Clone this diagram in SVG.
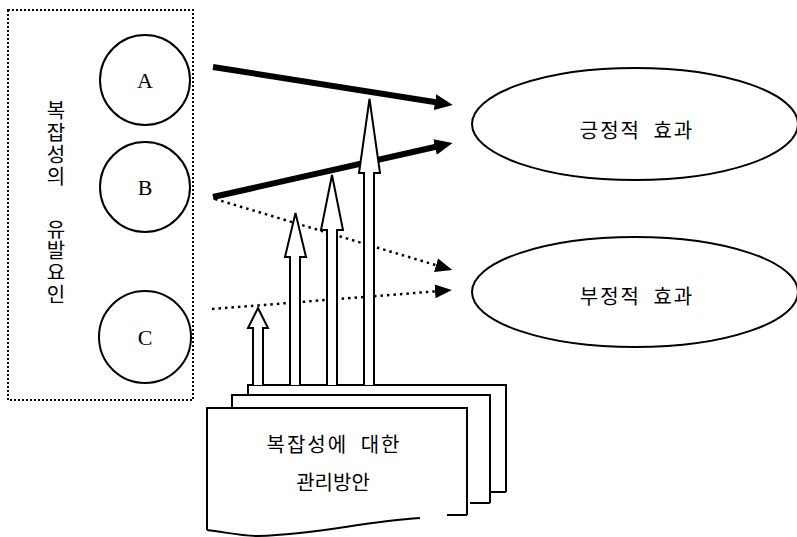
<svg xmlns="http://www.w3.org/2000/svg" width="797" height="537" viewBox="0 0 797 537">
<style>
.ln{fill:none;stroke:#000;stroke-width:2}
.circ{fill:#fff;stroke:#000;stroke-width:2}
.lat{font-family:"Liberation Serif",serif;font-size:22px;fill:#000;text-anchor:middle;dominant-baseline:central}
.ko{font-family:"Noto Sans CJK KR","Noto Sans",sans-serif;font-size:20px;fill:#000;text-anchor:middle;dominant-baseline:central}
.thick{fill:none;stroke:#000;stroke-width:6}
.dot{fill:none;stroke:#000;stroke-width:2.5;stroke-dasharray:2.5 4}
.hollow{fill:#fff;stroke:#000;stroke-width:2;stroke-linejoin:miter}
.page{fill:#fff;stroke:#000;stroke-width:2}
</style>
<defs>
<marker id="ah" markerUnits="userSpaceOnUse" markerWidth="18" markerHeight="18" viewBox="0 0 18 18" refX="1" refY="9" orient="auto">
<path d="M0,1 L18,9 L0,17 z" fill="#000"/>
</marker>
<marker id="ahd" markerUnits="userSpaceOnUse" markerWidth="18" markerHeight="18" viewBox="0 0 18 18" refX="1" refY="9" orient="auto">
<path d="M0,2 L17,9 L0,16 z" fill="#000"/>
</marker>
</defs>
<rect width="797" height="537" fill="#fff"/>

<g id="factors">
<rect x="8" y="10" width="185" height="390" fill="none" stroke="#000" stroke-width="2" stroke-dasharray="2 2"/>
<text class="ko"><tspan x="56" y="109">복</tspan><tspan x="56" y="131">잡</tspan><tspan x="56" y="153">성</tspan><tspan x="56" y="175">의</tspan><tspan x="56" y="228">유</tspan><tspan x="56" y="249">발</tspan><tspan x="56" y="271">요</tspan><tspan x="56" y="293">인</tspan></text>
</g>
<g id="A"><circle class="circ" cx="145" cy="80" r="45"/><text class="lat" x="145" y="80">A</text></g>
<g id="B"><circle class="circ" cx="145" cy="187" r="45"/><text class="lat" x="145" y="187">B</text></g>
<g id="C"><circle class="circ" cx="145" cy="337" r="46"/><text class="lat" x="145" y="337">C</text></g>

<g id="positive"><ellipse class="circ" cx="635" cy="124" rx="163" ry="56"/><text class="ko" x="637" y="129" letter-spacing="2" word-spacing="6">긍정적 효과</text></g>
<g id="negative"><ellipse class="circ" cx="635" cy="292" rx="163" ry="55"/><text class="ko" x="637" y="295" letter-spacing="2" word-spacing="6">부정적 효과</text></g>

<g id="connectors">
<line class="thick" x1="213" y1="67" x2="436" y2="102.3" marker-end="url(#ah)"/>
<line class="thick" x1="213" y1="197" x2="436" y2="146.8" marker-end="url(#ah)"/>
<line class="dot" x1="215" y1="199" x2="437" y2="265.5" marker-end="url(#ahd)"/>
<line class="dot" x1="212" y1="309" x2="436" y2="291.3" marker-end="url(#ahd)"/>
</g>

<g id="plans">
<path class="page" d="M248,492 L248,385 L506,385 L506,492 M506,492 L490,492"/>
<path class="page" d="M232,503 L232,395 L490,395 L490,503 M490,503 L470,503"/>
<path class="page" d="M207,530 L207,408 L467,408 L467,515" />
<path class="ln" d="M207,530 C225,532 240,536 258,536 C320,534 360,522 420,518 M447,515 L467,515"/>
<text class="ko" x="334" y="443" font-size="22" letter-spacing="2" word-spacing="6">복잡성에 대한</text>
<text class="ko" x="333" y="481" font-size="22">관리방안</text>
</g>

<g id="effect-arrows">
<path class="hollow" d="M253,385 L253,328 L248,328 L258,308 L268,328 L263,328 L263,385"/>
<path class="hollow" d="M290,385 L290,257 L285,257 L295.5,213 L306,257 L300,257 L300,385"/>
<path class="hollow" d="M327,385 L327,230 L321,230 L332,175 L343,230 L337,230 L337,385"/>
<path class="hollow" d="M364,385 L364,173 L359,173 L369.5,99 L380,173 L374,173 L374,385"/>
</g>
</svg>
